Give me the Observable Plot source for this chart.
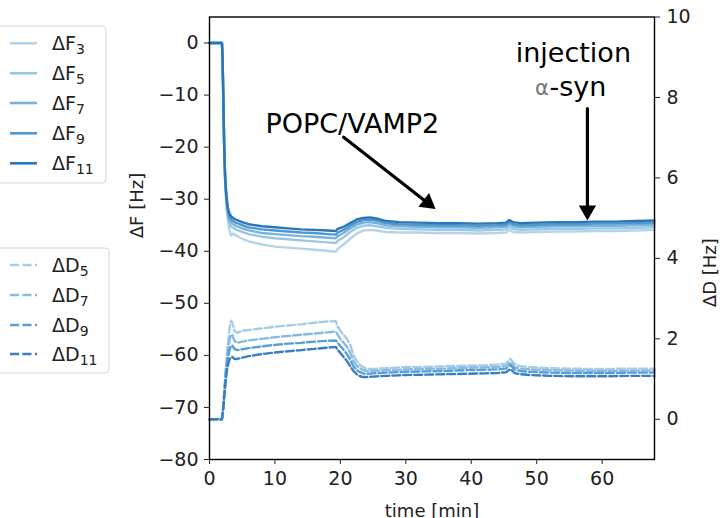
<!DOCTYPE html>
<html>
<head>
<meta charset="utf-8">
<script src="https://cdn.jsdelivr.net/npm/d3@7"></script>
<script src="https://cdn.jsdelivr.net/npm/@observablehq/plot@0.6"></script>
<style>
  html, body { margin: 0; padding: 0; background: #fff; }
  #wrap { position: relative; width: 720px; height: 518px; overflow: hidden; }
</style>
</head>
<body>
<div id="wrap"></div>
<script>
// ---------- data ----------
const timeF = [0, 1.9, 2.0, 2.1, 2.25, 2.4, 2.6, 2.8, 3.0, 3.3, 3.6, 4.0, 5, 6, 8, 10, 12, 14, 16, 18, 19.3, 19.6, 20.5, 21.5, 22.5, 23.5, 24.5, 25.5, 27, 29, 32, 35, 38, 41, 44, 45.3, 45.8, 46.4, 47.5, 50, 53, 56, 59, 62, 65, 68];
const dF11 = [0, 0, -3, -10, -20, -26, -29.5, -31.5, -32.6, -33.3, -33.6, -33.9, -34.4, -34.8, -35.2, -35.4, -35.6, -35.8, -35.9, -36.0, -36.1, -35.7, -35.3, -34.6, -33.9, -33.6, -33.5, -33.7, -34.2, -34.4, -34.5, -34.6, -34.6, -34.7, -34.6, -34.5, -34.0, -34.4, -34.6, -34.5, -34.4, -34.4, -34.3, -34.3, -34.2, -34.1];
const dF9  = [0, 0, -3, -10, -20, -26.3, -30, -32, -33.2, -33.9, -34.2, -34.5, -35.0, -35.4, -35.8, -36.0, -36.2, -36.4, -36.5, -36.7, -36.8, -36.4, -35.9, -35.1, -34.4, -34.0, -33.9, -34.1, -34.6, -34.8, -34.9, -35.0, -35.0, -35.1, -35.0, -34.9, -34.4, -34.8, -35.0, -34.9, -34.8, -34.8, -34.7, -34.7, -34.6, -34.5];
const dF7  = [0, 0, -3, -10, -20, -26.5, -30.5, -32.6, -33.8, -34.5, -34.8, -35.1, -35.6, -36.0, -36.5, -36.7, -36.9, -37.1, -37.2, -37.4, -37.5, -37.1, -36.5, -35.6, -34.9, -34.5, -34.4, -34.6, -35.0, -35.2, -35.3, -35.4, -35.4, -35.5, -35.4, -35.3, -34.8, -35.2, -35.4, -35.3, -35.2, -35.2, -35.1, -35.1, -35.0, -34.9];
const dF5  = [0, 0, -3, -10, -20, -26.8, -31, -33.2, -34.5, -35.3, -35.5, -35.8, -36.3, -36.7, -37.2, -37.5, -37.7, -37.9, -38.1, -38.3, -38.4, -38.0, -37.3, -36.3, -35.5, -35.1, -35.0, -35.2, -35.5, -35.7, -35.8, -35.9, -35.9, -36.0, -35.9, -35.8, -35.3, -35.7, -35.9, -35.8, -35.7, -35.7, -35.6, -35.6, -35.5, -35.4];
const dF3  = [0, 0, -3, -10, -20, -27, -31.5, -34, -35.8, -37.0, -36.6, -36.9, -37.6, -38.1, -38.7, -39.1, -39.3, -39.5, -39.7, -39.9, -40.1, -39.5, -38.7, -37.6, -36.6, -36.0, -35.9, -36.0, -36.3, -36.4, -36.4, -36.5, -36.5, -36.6, -36.5, -36.4, -35.9, -36.3, -36.4, -36.3, -36.2, -36.2, -36.1, -36.1, -36.0, -35.9];

const timeD = [0, 1.9, 2.1, 2.3, 2.5, 2.7, 2.9, 3.1, 3.3, 3.5, 3.8, 4.2, 5, 6, 8, 10, 12, 14, 16, 18, 19.3, 19.6, 20, 20.5, 21, 21.5, 22, 22.5, 23, 23.5, 24, 25, 27, 30, 33, 36, 39, 42, 44, 45.3, 46, 46.6, 47.5, 49, 52, 55, 58, 61, 64, 68];
const dD5  = [0, 0, 0.3, 0.8, 1.3, 1.7, 2.0, 2.3, 2.45, 2.4, 2.2, 2.15, 2.2, 2.22, 2.26, 2.3, 2.33, 2.36, 2.4, 2.43, 2.44, 2.3, 2.2, 2.1, 2.0, 1.85, 1.6, 1.45, 1.35, 1.3, 1.25, 1.25, 1.27, 1.3, 1.3, 1.32, 1.33, 1.34, 1.36, 1.38, 1.5, 1.38, 1.32, 1.3, 1.27, 1.26, 1.25, 1.25, 1.26, 1.26];
const dD7  = [0, 0, 0.3, 0.75, 1.2, 1.55, 1.8, 2.0, 2.1, 2.1, 1.95, 1.9, 1.93, 1.96, 2.0, 2.04, 2.07, 2.1, 2.13, 2.16, 2.18, 2.1, 2.0, 1.9, 1.8, 1.65, 1.45, 1.33, 1.27, 1.22, 1.2, 1.2, 1.22, 1.24, 1.25, 1.26, 1.28, 1.29, 1.3, 1.32, 1.42, 1.3, 1.26, 1.24, 1.22, 1.21, 1.2, 1.2, 1.21, 1.21];
const dD9  = [0, 0, 0.28, 0.7, 1.1, 1.4, 1.6, 1.75, 1.82, 1.83, 1.75, 1.72, 1.74, 1.77, 1.81, 1.85, 1.88, 1.9, 1.93, 1.95, 1.96, 1.9, 1.82, 1.73, 1.62, 1.48, 1.32, 1.22, 1.17, 1.14, 1.13, 1.14, 1.16, 1.18, 1.19, 1.2, 1.22, 1.23, 1.24, 1.26, 1.35, 1.24, 1.2, 1.18, 1.16, 1.15, 1.15, 1.15, 1.16, 1.16];
const dD11 = [0, 0, 0.25, 0.65, 1.0, 1.25, 1.4, 1.5, 1.55, 1.55, 1.5, 1.5, 1.53, 1.57, 1.62, 1.66, 1.69, 1.72, 1.75, 1.78, 1.8, 1.72, 1.65, 1.55, 1.45, 1.32, 1.2, 1.12, 1.07, 1.05, 1.05, 1.06, 1.08, 1.1, 1.11, 1.12, 1.13, 1.14, 1.15, 1.17, 1.25, 1.15, 1.12, 1.1, 1.08, 1.07, 1.07, 1.07, 1.08, 1.08];

const fNames = ["3", "5", "7", "9", "11"];
const dNames = ["5", "7", "9", "11"];
const fColors = ["#b5d4ea", "#9cc6e4", "#78b3db", "#4f97cf", "#2a76ba"];
const dColors = ["#a6cde8", "#88bbe1", "#5b9ed3", "#3a7fbf"];

const xTicks = [0, 10, 20, 30, 40, 50, 60];
const fTicks = [-80, -70, -60, -50, -40, -30, -20, -10, 0];
const dTicks = [0, 2, 4, 6, 8, 10];

// annotations (data coordinates)
const arrows = [
  {t1: 20.5, f1: -18.1, t2: 34.55, f2: -31.9},
  {t1: 57.75, f1: -12.6, t2: 57.75, f2: -34.1}
];
const labelPopc = [{t: 8.55, f: -17.2, text: "POPC/VAMP2"}];
const labelInj = [{t: 55.6, f: -3.7, text: "injection"}];
const labelSyn = [{t: 51.95, f: -10.1, text: "-syn"}];
const labelAlpha = [{t: 51.85, f: -10.1, text: "α"}];

// ---------- scales ----------
const fDomain = [-80, 5];
const dDomain = [-1, 10];
const toF = d => fDomain[0] + (d - dDomain[0]) * (fDomain[1] - fDomain[0]) / (dDomain[1] - dDomain[0]);
const fromF = f => dDomain[0] + (f - fDomain[0]) * (dDomain[1] - dDomain[0]) / (fDomain[1] - fDomain[0]);

const fSeries = [dF3, dF5, dF7, dF9, dF11];
const dSeries = [dD5, dD7, dD9, dD11];

const lineMarks = [];
dSeries.forEach((vals, i) => {
  const rows = timeD.map((t, j) => ({t, v: toF(vals[j])}));
  lineMarks.push(Plot.line(rows, {x: "t", y: "v", stroke: dColors[i], strokeWidth: 2.4, strokeDasharray: "8,3"}));
});
fSeries.forEach((vals, i) => {
  const rows = timeF.map((t, j) => ({t, v: vals[j]}));
  lineMarks.push(Plot.line(rows, {x: "t", y: "v", stroke: fColors[i], strokeWidth: 2.4}));
});

const ink = "#222";
const chart = Plot.plot({
  width: 720,
  height: 518,
  marginLeft: 209,
  marginRight: 66,
  marginTop: 16.5,
  marginBottom: 59,
  style: {fontFamily: "DejaVu Sans, sans-serif", fontSize: "19px", color: ink, background: "white"},
  x: {domain: [0, 68]},
  y: {domain: fDomain},
  marks: [
    ...lineMarks,
    Plot.frame({stroke: "black", strokeWidth: 1.4}),
    Plot.axisX({ticks: xTicks, tickSize: 5, tickPadding: 7, label: null, fontSize: 19}),
    Plot.axisY({ticks: fTicks, tickSize: 5, tickPadding: 6, label: null, fontSize: 19}),
    Plot.axisY({anchor: "right", ticks: dTicks.map(toF), tickFormat: f => String(Math.round(fromF(f))), tickSize: 5, tickPadding: 7, label: null, fontSize: 19}),
    Plot.text(["ΔF [Hz]"], {frameAnchor: "left", dx: -72, rotate: -90, text: d => d, fontSize: 18, fill: ink}),
    Plot.text(["ΔD [Hz]"], {frameAnchor: "right", dx: 56, rotate: -90, text: d => d, fontSize: 18, fill: ink}),
    Plot.text(["time [min]"], {frameAnchor: "bottom", dy: 57, text: d => d, fontSize: 18, fill: ink}),
    Plot.arrow(arrows, {x1: "t1", y1: "f1", x2: "t2", y2: "f2", stroke: "black", strokeWidth: 3.2, headLength: 0, insetEnd: 8}),
    Plot.dot(arrows.slice(0, 1), {x: "t2", y: "f2", symbol: "triangle", r: 6.4, fill: "black", rotate: 128, dx: -7.9, dy: -6.2}),
    Plot.dot(arrows.slice(1, 2), {x: "t2", y: "f2", symbol: "triangle", r: 6.4, fill: "black", rotate: 180, dx: 0, dy: -10}),
    Plot.text(labelPopc, {x: "t", y: "f", text: "text", textAnchor: "start", lineAnchor: "bottom", fontSize: 27, fill: "black"}),
    Plot.text(labelInj, {x: "t", y: "f", text: "text", textAnchor: "middle", lineAnchor: "bottom", fontSize: 27, fill: "black"}),
    Plot.text(labelSyn, {x: "t", y: "f", text: "text", textAnchor: "start", lineAnchor: "bottom", fontSize: 27, fill: "black"}),
    Plot.text(labelAlpha, {x: "t", y: "f", text: "text", textAnchor: "end", lineAnchor: "bottom", fontSize: 21, fill: "#777", dy: -1})
  ]
});
document.getElementById("wrap").appendChild(chart);

// ---------- legends ----------
const svg = d3.select(chart);
const leg = svg.append("g").attr("font-family", "DejaVu Sans, sans-serif").attr("fill", ink).attr("text-anchor", "start");
function legend(top, height, width, names, colors, prefix, ys, dashed) {
  leg.append("rect").attr("x", -6).attr("y", top).attr("width", width + 6).attr("height", height)
    .attr("rx", 4).attr("fill", "white").attr("fill-opacity", 0.9).attr("stroke", "#d6d6d6").attr("stroke-width", 1);
  names.forEach((n, i) => {
    leg.append("line").attr("x1", 10).attr("x2", 37).attr("y1", ys[i]).attr("y2", ys[i])
      .attr("stroke", colors[i]).attr("stroke-width", 2.6)
      .attr("stroke-dasharray", dashed ? "9,3.5" : null);
    const t = leg.append("text").attr("x", 52).attr("y", ys[i] + 6.5).attr("font-size", 19).attr("text-anchor", "start");
    t.append("tspan").text(prefix);
    t.append("tspan").attr("font-size", 14).attr("dy", 4).text(n);
  });
}
legend(26, 157, 106, fNames, fColors, "ΔF", [43.3, 73.3, 103, 133.3, 163.3], false);
legend(248, 125, 109, dNames, dColors, "ΔD", [265, 295, 325, 354], true);
</script>
</body>
</html>
